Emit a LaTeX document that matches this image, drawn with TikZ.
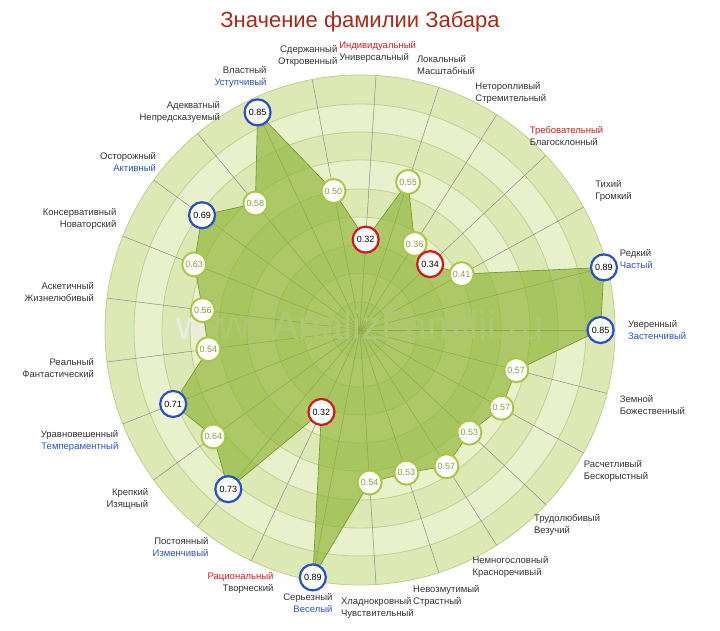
\documentclass[tikz,border=0pt]{standalone}
\usepackage{fontspec}
\setmainfont{Liberation Sans}
\definecolor{titlered}{RGB}{170,40,20}
\definecolor{ringfill}{RGB}{232,240,204}
\definecolor{ringfilltwo}{RGB}{220,233,180}
\definecolor{ringline}{RGB}{190,208,140}
\definecolor{areagreen}{RGB}{140,180,50}
\definecolor{markblue}{RGB}{40,80,200}
\definecolor{markred}{RGB}{210,25,25}
\definecolor{markgreen}{RGB}{170,200,70}
\definecolor{labgray}{RGB}{50,50,50}
\tikzset{
  mark r/.style={circle,draw=markred,line width=2.2pt,fill=white,minimum size=26pt,inner sep=0pt,font=\fontsize{9}{10}\selectfont,text=black},
  mark b/.style={circle,draw=markblue,line width=2.2pt,fill=white,minimum size=26pt,inner sep=0pt,font=\fontsize{9}{10}\selectfont,text=black},
  mark g/.style={circle,draw=markgreen,line width=2pt,fill=white,minimum size=24pt,inner sep=0pt,font=\fontsize{9}{10}\selectfont,text=markgreen!80!black},
  axislabel/.style={font=\fontsize{9.5}{12}\selectfont,text=labgray,inner sep=2pt}
}
\begin{document}
\begin{tikzpicture}[x=1pt,y=-1pt]
\useasboundingbox (0,0) rectangle (720,630);
\node (title) at (360,22) {\fontsize{22}{24}\selectfont\color{titlered}Значение фамилии Забара};
% rings
\fill[ringfill] (360,330) circle (255);
\foreach \r [count=\i] in {255,226,198,170,141,113,85,57,28}{
  \ifodd\i \fill[ringfilltwo] (360,330) circle (\r);\else \fill[ringfill] (360,330) circle (\r);\fi
  \draw[ringline,line width=0.8pt] (360,330) circle (\r);
}
\coordinate (c) at (360,330);
% spokes
\foreach \k in {0,...,24}{
  \pgfmathsetmacro{\a}{3.6+14.4*\k}
  \coordinate (s\k) at ({360+255*sin(\a)},{330-255*cos(\a)});
  \draw[black!45,line width=0.5pt] (c) -- (s\k);
}
\node[text=black!8,font=\fontsize{40}{40}\selectfont] (wm) at (360,325) {www.AnalizFamilii.ru};
% data points
\foreach \k/\v in {0/0.32,1/0.55,2/0.36,3/0.34,4/0.41,5/0.89,6/0.85,7/0.57,8/0.57,9/0.53,10/0.57,11/0.53,12/0.54,13/0.89,14/0.32,15/0.73,16/0.64,17/0.71,18/0.54,19/0.56,20/0.63,21/0.69,22/0.58,23/0.85,24/0.50}{
  \pgfmathsetmacro{\a}{3.6+14.4*\k}
  \coordinate (p\k) at ({360+283*\v*sin(\a)},{330-283*\v*cos(\a)});
}
\fill[areagreen,opacity=0.65] (p0) \foreach \k in {1,...,24}{-- (p\k)} -- cycle;
\draw[areagreen!80!black,line width=0.6pt] (p0) \foreach \k in {1,...,24}{-- (p\k)} -- cycle;
\foreach \k/\v/\m in {0/0.32/r,1/0.55/g,2/0.36/g,3/0.34/r,4/0.41/g,5/0.89/b,6/0.85/b,7/0.57/g,8/0.57/g,9/0.53/g,10/0.57/g,11/0.53/g,12/0.54/g,13/0.89/b,14/0.32/r,15/0.73/b,16/0.64/g,17/0.71/b,18/0.54/g,19/0.56/g,20/0.63/g,21/0.69/b,22/0.58/g,23/0.85/b,24/0.50/g}{
  \node[mark \m] (v\k) at (p\k) {\v};
}
% axis labels
\foreach \k/\t/\tc/\u/\uc in {0/Индивидуальный/markred/Универсальный/labgray,
  1/Локальный/labgray/Масштабный/labgray,
  2/Неторопливый/labgray/Стремительный/labgray,
  3/Требовательный/markred/Благосклонный/labgray,
  4/Тихий/labgray/Громкий/labgray,
  5/Редкий/labgray/Частый/markblue,
  6/Уверенный/labgray/Застенчивый/markblue,
  7/Земной/labgray/Божественный/labgray,
  8/Расчетливый/labgray/Бескорыстный/labgray,
  9/Трудолюбивый/labgray/Везучий/labgray,
  10/Немногословный/labgray/Красноречивый/labgray,
  11/Невозмутимый/labgray/Страстный/labgray,
  12/Хладнокровный/labgray/Чувствительный/labgray,
  13/Серьезный/labgray/Веселый/markblue,
  14/Рациональный/markred/Творческий/labgray,
  15/Постоянный/labgray/Изменчивый/markblue,
  16/Крепкий/labgray/Изящный/labgray,
  17/Уравновешенный/labgray/Темпераментный/markblue,
  18/Реальный/labgray/Фантастический/labgray,
  19/Аскетичный/labgray/Жизнелюбивый/labgray,
  20/Консервативный/labgray/Новаторский/labgray,
  21/Осторожный/labgray/Активный/markblue,
  22/Адекватный/labgray/Непредсказуемый/labgray,
  23/Властный/labgray/Уступчивый/markblue,
  24/Сдержанный/labgray/Откровенный/labgray}{
  \pgfmathsetmacro{\a}{3.6+14.4*\k}
  \pgfmathsetmacro{\an}{270-\a}
  \ifnum\k<13 \def\al{left}\else\def\al{right}\fi
  \node[axislabel,anchor=\an,align=\al] (l\k) at ({360+266*sin(\a)},{330-266*cos(\a)})
    {\textcolor{\tc}{\t}\\\textcolor{\uc}{\u}};
}
\end{tikzpicture}
\end{document}
